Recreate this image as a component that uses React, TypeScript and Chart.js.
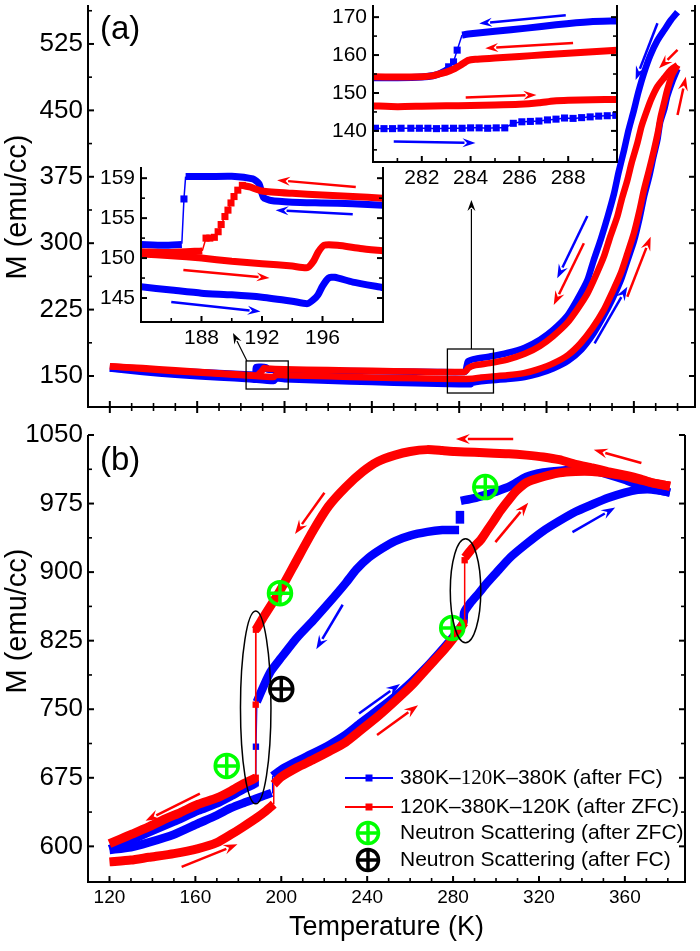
import React, { useEffect, useRef } from 'react';
import { Chart, registerables } from 'chart.js';

Chart.register(...registerables);

const SANS = '"Liberation Sans", Arial, Helvetica, sans-serif';
const SERIF = '"Liberation Serif", "Times New Roman", serif';
const BLUE = '#0000ff';
const RED = '#ff0000';
const GREEN = '#00ff00';
const BLACK = '#000000';

// ---------------- axes ----------------
const T_RANGE = [110, 388];
const M_RANGE_A = [115, 569];
const M_RANGE_B = [561, 1050];
const T_MAJOR = [120, 160, 200, 240, 280, 320, 360];
const T_MINOR = [130, 140, 150, 170, 180, 190, 210, 220, 230, 250, 260, 270, 290, 300, 310, 330, 340, 350, 370, 380];
const MA_MAJOR = [150, 225, 300, 375, 450, 525];
const MA_MINOR = [187.5, 262.5, 337.5, 412.5, 487.5, 562.5];
const MB_MAJOR = [600, 675, 750, 825, 900, 975, 1050];
const MB_MINOR = [637.5, 712.5, 787.5, 862.5, 937.5, 1012.5];

const IN1_T_RANGE = [184, 200];
const IN1_M_RANGE = [142, 161.4];
const IN1_T_MAJOR = [188, 192, 196];
const IN1_T_MINOR = [186, 190, 194, 198];
const IN1_M_MAJOR = [145, 150, 155, 160];
const IN1_M_LABELS = ['145', '150', '155', '159'];
const IN1_M_MINOR = [147.5, 152.5, 157.5];

const IN2_T_RANGE = [280, 290];
const IN2_M_RANGE = [131.8, 173.2];
const IN2_T_MAJOR = [282, 284, 286, 288];
const IN2_T_MINOR = [281, 283, 285, 287, 289];
const IN2_M_MAJOR = [140, 150, 160, 170];
const IN2_M_MINOR = [135, 145, 155, 165];

// ---------------- panel (a) data [T, M] ----------------
const A_FC_COOL = [[380,561],[377,552],[374,541],[370.8,529],[367.5,512],[364.6,492],[362,470],[360,450],[357.5,427],[355.5,405],[353,380],[350.9,356],[348,330],[344.8,304],[341.5,280],[338.7,258],[334,236],[329.5,218],[323,202],[317,191],[310,182],[302,176],[294,172],[286.7,169],[284,166.5],[283.4,161],[283,156],[282.4,154.5],[270,154.5],[250,155],[230,155.7],[210,156.3],[200,156.6],[192.2,157.3],[191.7,159.7],[187,160.2],[186.6,151.7],[184,151.8],[170,153.5],[150,155.5],[135,157],[120,158.5]];
const A_FC_HEAT = [[120,158.5],[135,154.5],[150,151.3],[170,148.4],[184,146.4],[195,144.3],[196.4,147.5],[200,146.3],[220,144.6],[240,143.1],[260,141.8],[280,140.7],[285.4,140.8],[285.8,142.1],[290,144.1],[294,145],[302,146.5],[310,148.8],[316,152.3],[323,158.5],[330,167.5],[336,180],[341,196],[346,217],[350,236],[354,258],[357,280],[360,302],[362.5,327],[364.6,352],[367,375],[369,398],[370.8,417],[372,436],[374,452],[375.3,466],[377.5,482],[380,497]];
const A_ZFC_HEAT = [[120,161],[135,158.2],[150,155.5],[170,152.5],[184,150.5],[195,148.8],[196,151.2],[200,150.9],[220,149.6],[240,148.4],[260,147.4],[280,146.6],[286,147],[290,148.3],[294.3,149.3],[302,150.8],[309.6,153.2],[316,157.5],[323.3,164.5],[330,174],[335.6,187],[341,204],[346.3,225],[350,244],[354,266],[357,288],[360,311],[362.5,336],[364.6,360],[367,383],[369.2,405],[371,425],[372.3,443],[374,460],[375.3,473],[377.5,490],[380,501]];
const A_ZFC_COOL = [[380,501],[377,496],[374,487],[370.8,477],[368,463],[366,450],[363.5,432],[361.6,413],[359,391],[357,371],[354.5,350],[352.4,330],[349,306],[346.3,285],[342.5,263],[338.7,243],[334,225],[329.5,210],[323,195],[317,184],[310,175],[302,168.5],[294,164.5],[287,162],[284.2,159],[283.3,156.2],[282.4,154.5],[270,154.6],[250,155.4],[230,156.3],[210,157.1],[200,157.5],[192,158.4],[190.7,159.1],[189.5,155.3],[188.3,152.5],[188,150.9],[184,150.8],[170,153.2],[150,156.5],[135,159],[120,161]];

// ---------------- inset 1 data ----------------
const I1_FC_COOL_A = [[200,156.6],[198,156.8],[196,156.9],[194,157.0],[192.6,157.2],[192.1,157.6],[191.8,159.3],[191.4,159.9],[190,160.25],[188,160.2],[186.95,160.2]];
const I1_FC_COOL_JUMP = [[186.95,160.2],[186.84,157.4],[186.7,151.8]];
const I1_FC_COOL_B = [[186.7,151.7],[185.5,151.6],[184,151.7]];
const I1_FC_HEAT = [[184,146.4],[186,146.0],[188,145.6],[190,145.4],[192,145.1],[194,144.6],[195,144.3],[195.4,144.8],[195.7,145.4],[196,146.5],[196.4,147.5],[196.8,147.6],[198,147.0],[200,146.3]];
const I1_ZFC_HEAT = [[184,150.5],[186,150.3],[188,150.0],[190,149.6],[192,149.3],[194,149.0],[195,148.8],[195.4,149.6],[195.7,150.7],[196.1,151.6],[197,151.6],[198.5,151.2],[200,150.9]];
const I1_ZFC_COOL_A = [[200,157.5],[198,157.7],[196,157.9],[194,158.1],[192,158.4],[191.2,158.9],[190.7,159.1]];
const I1_ZFC_COOL_STEPS = [[190.7,159.1],[190.4,158.5],[190.15,157.7],[189.95,156.9],[189.75,156.0],[189.55,155.2],[189.3,154.2],[189.1,153.3],[188.85,152.6],[188.55,152.5],[188.3,152.5],[188.05,150.9]];
const I1_ZFC_COOL_B = [[188.05,150.9],[186,150.7],[184,150.8]];

// ---------------- inset 2 data ----------------
const I2_FC_COOL_A = [[290,169.0],[288.9,168.8],[287.5,168.0],[286.3,167.1],[285,166.3],[284,165.6],[283.65,165.3]];
const I2_FC_COOL_JUMP = [[283.65,165.3],[283.45,161.3],[283.3,158.2],[283.1,156.9]];
const I2_FC_COOL_B = [[283.1,156.4],[282.8,155.3],[282.5,154.6],[282,154.2],[281,154.0],[280,154.0]];
const I2_ZFC_COOL = [[290,161.3],[289,160.9],[287,160.1],[286,159.6],[285,159.2],[284.2,158.9],[283.9,158.6],[283.6,157.4],[283.3,156.3],[283.0,155.5],[282.7,155.0],[282.4,154.5],[282,154.3],[281,154.2],[280,154.3]];
const I2_ZFC_HEAT = [[280,146.6],[281,146.4],[282,146.5],[283,146.6],[284,146.7],[285,146.8],[286,147.0],[286.8,147.4],[287.4,147.9],[288,148.1],[289,148.2],[290,148.3]];
const I2_FC_HEAT_T = [280.1,280.45,280.8,281.15,281.55,281.9,282.25,282.6,282.95,283.3,283.65,284.0,284.35,284.7,285.05,285.4,285.75,286.1,286.45,286.8,287.15,287.5,287.85,288.2,288.55,288.9,289.25,289.6,289.95];
const I2_FC_HEAT_M = [140.7,140.6,140.6,140.7,140.7,140.7,140.7,140.6,140.7,140.7,140.7,140.8,140.8,140.7,140.8,140.8,142.0,142.4,142.5,142.6,142.9,143.1,143.4,143.3,143.5,143.7,143.9,144.0,144.1];

// ---------------- panel (b) data ----------------
const B_FC_COOL_1 = [[381,987],[375,990],[368,994],[360,1001],[352,1007],[345,1011],[337,1012],[330,1011],[322,1009],[314,1004],[306.6,994],[300,988],[295.8,985],[290,981],[283.6,978]];
const B_FC_COOL_STEP = [[283.2,967],[283.2,953]];
const B_FC_COOL_2 = [[282.8,946],[280,946],[275,946],[268,944],[260,940],[253,934],[247,926],[240.8,916],[235,903],[230,888],[222.4,867],[214.8,847],[207.2,828],[199.5,805],[195,791],[191.9,776],[188.6,758]];
const B_FC_COOL_JUMP = [[188.6,758],[188.2,709],[188.1,669]];
const B_FC_COOL_3 = [[188.3,669],[182,662],[176.6,655],[170,647],[161.3,639],[150,627],[138,615],[130.7,607.5],[120,597]];
const B_FC_HEAT_1 = [[120,596],[130,599],[138,604],[150,613],[161.3,625],[170,634],[176.6,642],[182,647],[188,652],[192,655.5],[195.5,658.5]];
const B_FC_HEAT_JUMP = [[195.7,658.5],[196,677]];
const B_FC_HEAT_2 = [[196,677],[200,684],[207.2,693],[215,702],[222.4,711],[230,722],[237,735],[245.4,750],[253,764],[260.7,780],[268,797],[276,818],[280,829],[283.6,840],[284.8,845],[285.2,856],[288,866],[292,877],[295.8,888],[300,899],[306.6,916],[314.2,931],[322,945],[329.5,956],[337,966],[344.8,974],[352,981],[360,987],[366,990],[372.3,990.5],[377,989],[381,987]];
const B_ZFC_HEAT_1 = [[120,583],[130,585],[138.3,588],[150,592],[161.3,597.5],[170,604],[176.6,613],[182,621],[188.8,631.6],[193,639],[196.5,646]];
const B_ZFC_HEAT_JUMP = [[196.5,646],[196.5,668]];
const B_ZFC_HEAT_2 = [[196.5,668],[200,676],[207.2,686],[215,695],[222.4,704],[230,714],[237,727],[245.4,743],[253,759],[260.7,776],[268,795],[276,815.5],[280,827],[282,833.6],[285.1,844.5]];
const B_ZFC_HEAT_JUMP2 = [[285.1,844.5],[285.4,913]];
const B_ZFC_HEAT_3 = [[285.5,916],[289,926],[292.8,935],[296,946],[298.9,956],[302,967],[306.6,981],[310,990],[314.2,998],[320,1003],[329.5,1008.5],[337,1010],[344.8,1010],[352,1008],[360,1005],[367,1001],[372.3,998],[377,996],[381,994]];
const B_ZFC_COOL_1 = [[381,994],[376,996],[372.3,998],[367,1002],[360,1006],[352,1010],[344.8,1014],[337,1018],[329.5,1023],[322,1026],[314.2,1028],[306,1029.5],[298.9,1030],[290,1031],[280.6,1032],[275,1033],[268,1034],[260,1032],[253,1028],[245,1021],[238,1010],[230,993],[222,972],[215,946],[207.2,913],[199.5,880],[191.9,851.5],[188.2,837]];
const B_ZFC_COOL_JUMP = [[188.2,837],[188.1,755],[188.1,675]];
const B_ZFC_COOL_2 = [[188.3,675],[182,668],[176.6,660.6],[170,653],[161.3,646],[153,637],[146,630],[138,621],[130.7,613.6],[125,608],[120,603]];
const NS_ZFC = [[199.4,877],[174.6,688],[295,993],[279.6,839]];
const NS_FC = [[200,772]];

// ---------------- annotations (data coordinates) ----------------
const A_ARROWS = [
  [BLUE, 370.8, 548.4, 360.8, 484.3], [RED, 380, 518.2, 371.5, 497.5], [RED, 380, 444.8, 383.8, 488],
  [BLUE, 338.7, 330.7, 324.9, 260.3], [RED, 337.1, 299.9, 323.3, 230.2], [RED, 357, 239.6, 367.7, 307.3],
  [BLUE, 342, 186.9, 357, 250.9],
];
const A_BOXES = [[182.4, 201.7, 135.3, 167], [274.6, 295.7, 130.8, 180.5]];
const A_POINTERS = [[182.8, 167, 176.4, 198.6], [285.6, 180.5, 285.6, 348.8]];
const B_ARROWS = [
  [RED, 220.1, 986.9, 206.4, 941.8], [BLUE, 228.6, 864.3, 216.3, 815.6], [RED, 162.1, 657.7, 136.8, 628.1],
  [RED, 153.6, 577.6, 179.6, 602.2], [RED, 308, 1045.6, 281.3, 1045.6], [RED, 367.7, 1019.4, 345.5, 1033.8],
  [RED, 299.7, 932.8, 315, 976], [BLUE, 335.6, 943.7, 355.5, 970.7], [BLUE, 236.2, 745.3, 255.3, 777.7],
  [RED, 244.6, 721.9, 263.7, 754.3],
];
const B_ELLIPSES = [[181, 195.2, 646.5, 857.4], [278.7, 292.9, 822.8, 936.4]];
const I1_ARROWS = [[RED, 198.2, 158.9, 193, 159.75], [BLUE, 198, 155.5, 192.9, 156], [RED, 186.8, 148.5, 192.5, 147.5], [BLUE, 186, 144.5, 191.9, 143.3]];
const I2_ARROWS = [[BLUE, 287.9, 170.5, 284.35, 168.3], [RED, 288.2, 163.2, 284.6, 161.8], [RED, 283.8, 148.8, 286.7, 149.5], [BLUE, 280.85, 137.2, 284.2, 136.8]];
const LEGEND_LABELS = ['380K\u2013120K\u2013380K (after FC)', '120K\u2013380K\u2013120K (after ZFC)', 'Neutron Scattering (after ZFC)', 'Neutron Scattering (after FC)'];

// ---------------- helpers ----------------
const toXY = (a: number[][]) => a.map(([x, y]) => ({ x, y }));

function band(data: number[][], color: string, width: number) {
  return {
    data: toXY(data), showLine: true, borderColor: color, backgroundColor: color, borderWidth: width,
    pointRadius: 0, pointHoverRadius: 0, tension: 0.2, borderJoinStyle: 'round', borderCapStyle: 'butt', fill: false,
  };
}
function thin(data: number[][], color: string, marks: number[], r = 5) {
  return {
    data: toXY(data), showLine: true, borderColor: color, backgroundColor: color, borderWidth: 1.5,
    pointStyle: 'rect', pointRadius: (c: any) => (marks.includes(c.dataIndex) ? r : 0), pointHoverRadius: 0,
    pointBorderWidth: 0, tension: 0, fill: false,
  };
}
function nsMarker(data: number[][], color: string, style: string) {
  return {
    data: toXY(data), showLine: false, pointStyle: style, pointRadius: 11.5, pointHoverRadius: 11.5,
    borderColor: color, backgroundColor: 'rgba(0,0,0,0)', pointBorderWidth: 3.5, borderWidth: 3.5,
  };
}

function seg(ctx: any, x1: number, y1: number, x2: number, y2: number) {
  ctx.beginPath(); ctx.moveTo(x1, y1); ctx.lineTo(x2, y2); ctx.stroke();
}
function arrow(ctx: any, x1: number, y1: number, x2: number, y2: number, color: string, lw = 2.5, hl = 14, hw = 5) {
  const a = Math.atan2(y2 - y1, x2 - x1);
  const bx = x2 - hl * Math.cos(a), by = y2 - hl * Math.sin(a);
  ctx.save();
  ctx.strokeStyle = color; ctx.fillStyle = color; ctx.lineWidth = lw;
  seg(ctx, x1, y1, bx + 2 * Math.cos(a), by + 2 * Math.sin(a));
  ctx.beginPath();
  ctx.moveTo(x2, y2);
  ctx.lineTo(bx + hw * Math.sin(a), by - hw * Math.cos(a));
  ctx.lineTo(bx + 0.35 * hl * Math.cos(a), by + 0.35 * hl * Math.sin(a));
  ctx.lineTo(bx - hw * Math.sin(a), by + hw * Math.cos(a));
  ctx.closePath(); ctx.fill();
  ctx.restore();
}
function drawArrows(chart: any, list: any[], lw = 2.5, hl = 14, hw = 5) {
  const xs = chart.scales.x, ys = chart.scales.y;
  list.forEach(([c, t1, m1, t2, m2]) => arrow(chart.ctx, xs.getPixelForValue(t1), ys.getPixelForValue(m1), xs.getPixelForValue(t2), ys.getPixelForValue(m2), c, lw, hl, hw));
}
function drawFrame(chart: any, f: any) {
  const { ctx, chartArea: a } = chart;
  const xs = chart.scales.x, ys = chart.scales.y;
  ctx.save();
  ctx.strokeStyle = '#000'; ctx.lineWidth = 2; ctx.lineJoin = 'miter'; ctx.lineCap = 'butt';
  ctx.beginPath();
  ctx.moveTo(a.left, a.top); ctx.lineTo(a.left, a.bottom); ctx.lineTo(a.right, a.bottom); ctx.lineTo(a.right, a.top);
  ctx.stroke();
  const doX = (vals: number[], len: number) => vals.forEach((v) => {
    const x = xs.getPixelForValue(v);
    seg(ctx, x, a.bottom, x, a.bottom - len);
    if (f.both) seg(ctx, x, a.bottom, x, a.bottom + len);
  });
  const doY = (vals: number[], len: number) => vals.forEach((v) => {
    const y = ys.getPixelForValue(v);
    seg(ctx, a.left, y, a.left + len, y);
    seg(ctx, a.right, y, a.right - len, y);
  });
  ctx.lineWidth = 2;
  doX(f.xMaj, 6); doY(f.yMaj, 6);
  ctx.lineWidth = 1.6;
  doX(f.xMin, 4); doY(f.yMin, 4);
  ctx.restore();
}
function yTitle(ctx: any, x: number, y: number) {
  ctx.save();
  ctx.translate(x, y); ctx.rotate(-Math.PI / 2);
  ctx.font = `29px ${SANS}`; ctx.fillStyle = '#000'; ctx.textAlign = 'center'; ctx.textBaseline = 'middle';
  ctx.fillText('M (emu/cc)', 0, 0);
  ctx.restore();
}
function panelLabel(ctx: any, text: string, x: number, y: number) {
  ctx.save();
  ctx.font = `33px ${SANS}`; ctx.fillStyle = '#000'; ctx.textAlign = 'left'; ctx.textBaseline = 'alphabetic';
  ctx.fillText(text, x, y);
  ctx.restore();
}
function nsSymbol(ctx: any, x: number, y: number, color: string, r: number) {
  ctx.save();
  ctx.strokeStyle = color; ctx.lineWidth = 3.5;
  ctx.beginPath(); ctx.arc(x, y, r, 0, Math.PI * 2); ctx.stroke();
  seg(ctx, x - r, y, x + r, y); seg(ctx, x, y - r, x, y + r);
  ctx.restore();
}
function zeroPad(s: any) {
  s.paddingTop = 0; s.paddingBottom = 0; s.paddingLeft = 0; s.paddingRight = 0;
}

function makeConfig(o: any) {
  const font = (size: number) => ({ family: SANS, size });
  return {
    type: 'scatter',
    data: { datasets: o.datasets },
    options: {
      responsive: false, animation: false, events: [],
      layout: { padding: o.padding },
      plugins: { legend: { display: false }, tooltip: { enabled: false }, title: { display: false } },
      scales: {
        x: {
          type: 'linear', min: o.xr[0], max: o.xr[1],
          grid: { display: false, drawTicks: false }, border: { display: false },
          afterBuildTicks: (s: any) => { s.ticks = o.xTicks.map((v: number) => ({ value: v })); },
          afterFit: (s: any) => { s.height = o.xH; zeroPad(s); },
          ticks: { display: o.xShow, font: font(o.xFont), color: '#000', padding: o.xPad, autoSkip: false, maxRotation: 0, minRotation: 0, callback: (v: any) => String(v) },
          title: o.xTitle ? { display: true, text: o.xTitle, font: font(27), color: '#000', padding: { top: 0, bottom: 7 } } : { display: false },
        },
        y: {
          type: 'linear', min: o.yr[0], max: o.yr[1],
          grid: { display: false, drawTicks: false }, border: { display: false },
          afterBuildTicks: (s: any) => { s.ticks = o.yTicks.map((v: number) => ({ value: v })); },
          afterFit: (s: any) => { s.width = o.yW; zeroPad(s); },
          ticks: {
            font: font(o.yFont), color: '#000', padding: o.yPad, autoSkip: false,
            callback: (v: any) => { const i = o.yTicks.indexOf(v); return o.yLabels ? (i >= 0 ? o.yLabels[i] : '') : String(v); },
          },
        },
      },
    },
    plugins: [{ id: 'decor', afterDraw: o.decor }],
  };
}

function configA() {
  return makeConfig({
    padding: { left: 0, right: 5, top: 5, bottom: 13 },
    xr: T_RANGE, yr: M_RANGE_A, xTicks: T_MAJOR, xShow: false, xFont: 19, xPad: 4, xH: 0,
    yTicks: MA_MAJOR, yFont: 26, yPad: 5, yW: 88,
    datasets: [band(A_ZFC_COOL, RED, 6.5), band(A_ZFC_HEAT, RED, 6.5), band(A_FC_COOL, BLUE, 6.5), band(A_FC_HEAT, BLUE, 6.5)],
    decor: (chart: any) => {
      const { ctx } = chart;
      const xs = chart.scales.x, ys = chart.scales.y;
      drawFrame(chart, { xMaj: T_MAJOR, xMin: T_MINOR, yMaj: MA_MAJOR, yMin: MA_MINOR, both: true });
      yTitle(ctx, 18, 207);
      panelLabel(ctx, '(a)', 100, 39);
      ctx.save();
      ctx.strokeStyle = '#000'; ctx.lineWidth = 1.3;
      A_BOXES.forEach(([t1, t2, m1, m2]) => {
        const x1 = xs.getPixelForValue(t1), x2 = xs.getPixelForValue(t2), y1 = ys.getPixelForValue(m2), y2 = ys.getPixelForValue(m1);
        ctx.strokeRect(x1, y1, x2 - x1, y2 - y1);
      });
      ctx.restore();
      A_POINTERS.forEach(([t1, m1, t2, m2]) => arrow(ctx, xs.getPixelForValue(t1), ys.getPixelForValue(m1), xs.getPixelForValue(t2), ys.getPixelForValue(m2), BLACK, 1.2, 11, 4));
      drawArrows(chart, A_ARROWS);
    },
  });
}

function configB() {
  return makeConfig({
    padding: { left: 0, right: 5, top: 10, bottom: 0 },
    xr: T_RANGE, yr: M_RANGE_B, xTicks: T_MAJOR, xShow: true, xFont: 19, xPad: 4, xH: 69, xTitle: 'Temperature (K)',
    yTicks: MB_MAJOR, yFont: 26, yPad: 5, yW: 88,
    datasets: [
      nsMarker(NS_ZFC, GREEN, 'cross'), nsMarker(NS_ZFC, GREEN, 'circle'),
      nsMarker(NS_FC, BLACK, 'cross'), nsMarker(NS_FC, BLACK, 'circle'),
      thin(B_ZFC_COOL_JUMP, RED, [0, 1, 2], 4.5), thin(B_ZFC_HEAT_JUMP, RED, [], 4.5), thin(B_ZFC_HEAT_JUMP2, RED, [0, 1], 4.5),
      band(B_ZFC_COOL_1, RED, 9), band(B_ZFC_COOL_2, RED, 9), band(B_ZFC_HEAT_1, RED, 9), band(B_ZFC_HEAT_2, RED, 9), band(B_ZFC_HEAT_3, RED, 9),
      thin(B_FC_COOL_JUMP, BLUE, [1, 2], 4.5), thin(B_FC_HEAT_JUMP, BLUE, [], 4.5),
      band(B_FC_COOL_1, BLUE, 8.5), band(B_FC_COOL_STEP, BLUE, 8.5), band(B_FC_COOL_2, BLUE, 8.5), band(B_FC_COOL_3, BLUE, 8.5),
      band(B_FC_HEAT_1, BLUE, 8.5), band(B_FC_HEAT_2, BLUE, 8.5),
    ],
    decor: (chart: any) => {
      const { ctx } = chart;
      const xs = chart.scales.x, ys = chart.scales.y;
      drawFrame(chart, { xMaj: T_MAJOR, xMin: T_MINOR, yMaj: MB_MAJOR, yMin: MB_MINOR, both: false });
      yTitle(ctx, 18, 201);
      panelLabel(ctx, '(b)', 100, 50);
      ctx.save();
      ctx.strokeStyle = '#000'; ctx.lineWidth = 1.5;
      B_ELLIPSES.forEach(([t1, t2, m1, m2]) => {
        const x1 = xs.getPixelForValue(t1), x2 = xs.getPixelForValue(t2), y1 = ys.getPixelForValue(m2), y2 = ys.getPixelForValue(m1);
        ctx.beginPath();
        ctx.ellipse((x1 + x2) / 2, (y1 + y2) / 2, (x2 - x1) / 2, (y2 - y1) / 2, 0, 0, Math.PI * 2);
        ctx.stroke();
      });
      ctx.restore();
      drawArrows(chart, B_ARROWS);
      // legend
      const rows = [358, 387, 413, 440];
      ctx.save();
      [BLUE, RED].forEach((c, i) => {
        ctx.strokeStyle = c; ctx.lineWidth = 2; seg(ctx, 345, rows[i], 393, rows[i]);
        ctx.fillStyle = c; ctx.fillRect(365.5, rows[i] - 3.5, 7, 7);
      });
      nsSymbol(ctx, 368, rows[2], GREEN, 10.5);
      nsSymbol(ctx, 368, rows[3], BLACK, 10.5);
      ctx.fillStyle = '#000'; ctx.textBaseline = 'middle'; ctx.textAlign = 'left';
      LEGEND_LABELS.forEach((label, i) => {
        if (i === 0) {
          const parts = label.split('120');
          let x = 400;
          ctx.font = `21px ${SANS}`; ctx.fillText(parts[0], x, rows[i]); x += ctx.measureText(parts[0]).width;
          ctx.font = `21px ${SERIF}`; ctx.fillText('120', x, rows[i]); x += ctx.measureText('120').width;
          ctx.font = `21px ${SANS}`; ctx.fillText(parts.slice(1).join('120'), x, rows[i]);
        } else {
          ctx.font = `21px ${SANS}`; ctx.fillText(label, 400, rows[i]);
        }
      });
      ctx.restore();
    },
  });
}

function configI1() {
  return makeConfig({
    padding: { left: 0, right: 12, top: 17, bottom: 0 },
    xr: IN1_T_RANGE, yr: IN1_M_RANGE, xTicks: IN1_T_MAJOR, xShow: true, xFont: 21, xPad: 4, xH: 38,
    yTicks: IN1_M_MAJOR, yLabels: IN1_M_LABELS, yFont: 21, yPad: 6, yW: 51,
    datasets: [
      thin(I1_ZFC_COOL_STEPS, RED, [0, 1, 2, 3, 4, 5, 6, 7, 8, 9, 10], 5),
      band(I1_ZFC_COOL_A, RED, 7), band(I1_ZFC_COOL_B, RED, 7), band(I1_ZFC_HEAT, RED, 7),
      thin(I1_FC_COOL_JUMP, BLUE, [1], 5),
      band(I1_FC_COOL_A, BLUE, 7), band(I1_FC_COOL_B, BLUE, 7), band(I1_FC_HEAT, BLUE, 7),
    ],
    decor: (chart: any) => {
      drawFrame(chart, { xMaj: IN1_T_MAJOR, xMin: IN1_T_MINOR, yMaj: IN1_M_MAJOR, yMin: IN1_M_MINOR, both: false });
      drawArrows(chart, I1_ARROWS, 2.5, 13, 4.5);
    },
  });
}

function configI2() {
  return makeConfig({
    padding: { left: 0, right: 13, top: 5, bottom: 0 },
    xr: IN2_T_RANGE, yr: IN2_M_RANGE, xTicks: IN2_T_MAJOR, xShow: true, xFont: 21, xPad: 4, xH: 38,
    yTicks: IN2_M_MAJOR, yFont: 21, yPad: 6, yW: 53,
    datasets: [
      band(I2_ZFC_COOL, RED, 7), band(I2_ZFC_HEAT, RED, 7),
      thin(I2_FC_COOL_JUMP, BLUE, [1, 2, 3], 5),
      band(I2_FC_COOL_A, BLUE, 7), band(I2_FC_COOL_B, BLUE, 7),
      thin(I2_FC_HEAT_T.map((t, i) => [t, I2_FC_HEAT_M[i]]), BLUE, I2_FC_HEAT_T.map((_, i) => i), 5),
    ],
    decor: (chart: any) => {
      drawFrame(chart, { xMaj: IN2_T_MAJOR, xMin: IN2_T_MINOR, yMaj: IN2_M_MAJOR, yMin: IN2_M_MINOR, both: false });
      drawArrows(chart, I2_ARROWS, 2.5, 13, 4.5);
    },
  });
}

export default function App() {
  const a = useRef<HTMLCanvasElement>(null);
  const b = useRef<HTMLCanvasElement>(null);
  const i1 = useRef<HTMLCanvasElement>(null);
  const i2 = useRef<HTMLCanvasElement>(null);
  useEffect(() => {
    const charts = [
      new Chart(a.current as any, configA() as any),
      new Chart(b.current as any, configB() as any),
      new Chart(i1.current as any, configI1() as any),
      new Chart(i2.current as any, configI2() as any),
    ];
    return () => charts.forEach((c) => c.destroy());
  }, []);
  const abs = (l: number, t: number, w: number, h: number): any => ({ position: 'absolute', left: l, top: t, width: w, height: h });
  return (
    <div style={{ position: 'absolute', left: 0, top: 0, width: 700, height: 951, background: '#fff', overflow: 'hidden' }}>
      <canvas ref={a} width={700} height={420} style={abs(0, 0, 700, 420)} />
      <canvas ref={b} width={700} height={531} style={abs(0, 420, 700, 531)} />
      <canvas ref={i1} width={305} height={210} style={abs(90, 150, 305, 210)} />
      <canvas ref={i2} width={310} height={200} style={abs(320, 0, 310, 200)} />
    </div>
  );
}
